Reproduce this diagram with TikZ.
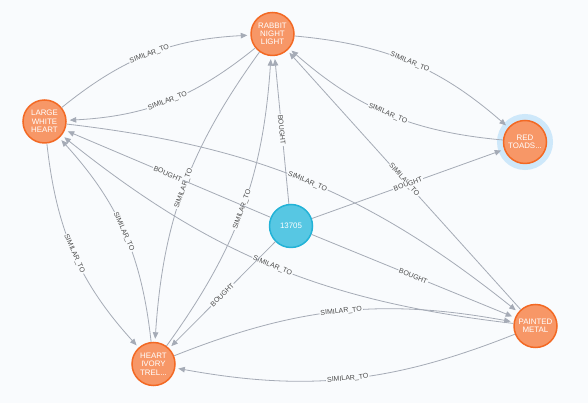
\documentclass[tikz,border=0pt]{standalone}
\usepackage{fontspec}
\setmainfont{Liberation Sans}
\usetikzlibrary{arrows.meta}
\definecolor{canvas}{RGB}{249,251,253}
\definecolor{prodfill}{RGB}{247,151,103}
\definecolor{prodline}{RGB}{243,105,36}
\definecolor{custfill}{RGB}{87,199,227}
\definecolor{custline}{RGB}{35,179,215}
\definecolor{relgray}{RGB}{165,171,182}
\definecolor{halo}{RGB}{206,232,250}

\begin{document}
\begin{tikzpicture}[
    x=1pt, y=1pt,
    product/.style={circle, draw=prodline, fill=prodfill, line width=1.5pt, minimum size=43pt, inner sep=0pt, text=white, align=center, font=\fontsize{7.9}{8.3}\selectfont},
    customer/.style={product, draw=custline, fill=custfill},
    selected/.style={preaction={draw=halo, line width=13pt}},
    rel/.style={-{Triangle[length=6.5pt,width=5.5pt]}, draw=relgray, line width=0.8pt, shorten >=3pt},
    lbl/.style={midway, sloped, fill=canvas, inner sep=1pt, text=black!70, font=\fontsize{7}{7}\selectfont}
]
    \fill[canvas] (0,0) rectangle (588,403);
    \useasboundingbox (0,0) rectangle (588,403);

    \node[product] (rabbit) at (272.5,369) {RABBIT\\NIGHT\\LIGHT};
    \node[product] (heart) at (44.5,281.5) {LARGE\\WHITE\\HEART};
    \node[product, selected] (toads) at (525,261) {RED\\TOADS...};
    \node[customer] (cust) at (291,177) {13705};
    \node[product] (ivory) at (153.5,39) {HEART\\IVORY\\TREL...};
    \node[product] (metal) at (535.5,77) {PAINTED\\METAL};

    \draw[rel] (heart) to[bend left=18] node[lbl] {SIMILAR\_TO} (rabbit);
    \draw[rel] (rabbit) to[bend left=18] node[lbl] {SIMILAR\_TO} (heart);
    \draw[rel] (rabbit) to[bend left=18] node[lbl] {SIMILAR\_TO} (toads);
    \draw[rel] (toads) to[bend left=18] node[lbl] {SIMILAR\_TO} (rabbit);
    \draw[rel] (metal) -- node[lbl] {SIMILAR\_TO} (rabbit);
    \draw[rel] (heart) to[bend left=16] node[lbl] {SIMILAR\_TO} (metal);
    \draw[rel] (metal) to[bend left=16] node[lbl] {SIMILAR\_TO} (heart);
    \draw[rel] (heart) to[bend right=18] node[lbl] {SIMILAR\_TO} (ivory);
    \draw[rel] (ivory) to[bend right=18] node[lbl] {SIMILAR\_TO} (heart);
    \draw[rel] (rabbit) to[bend right=16] node[lbl] {SIMILAR\_TO} (ivory);
    \draw[rel] (ivory) to[bend right=16] node[lbl] {SIMILAR\_TO} (rabbit);
    \draw[rel] (ivory) to[bend left=16] node[lbl] {SIMILAR\_TO} (metal);
    \draw[rel] (metal) to[bend left=16] node[lbl] {SIMILAR\_TO} (ivory);

    % purchases of the customer
    \draw[rel] (cust) -- node[lbl] {BOUGHT} (rabbit);
    \draw[rel] (cust) -- node[lbl] {BOUGHT} (heart);
    \draw[rel] (cust) -- node[lbl] {BOUGHT} (toads);
    \draw[rel] (cust) -- node[lbl] {BOUGHT} (metal);
    \draw[rel] (cust) -- node[lbl] {BOUGHT} (ivory);
\end{tikzpicture}
\end{document}
